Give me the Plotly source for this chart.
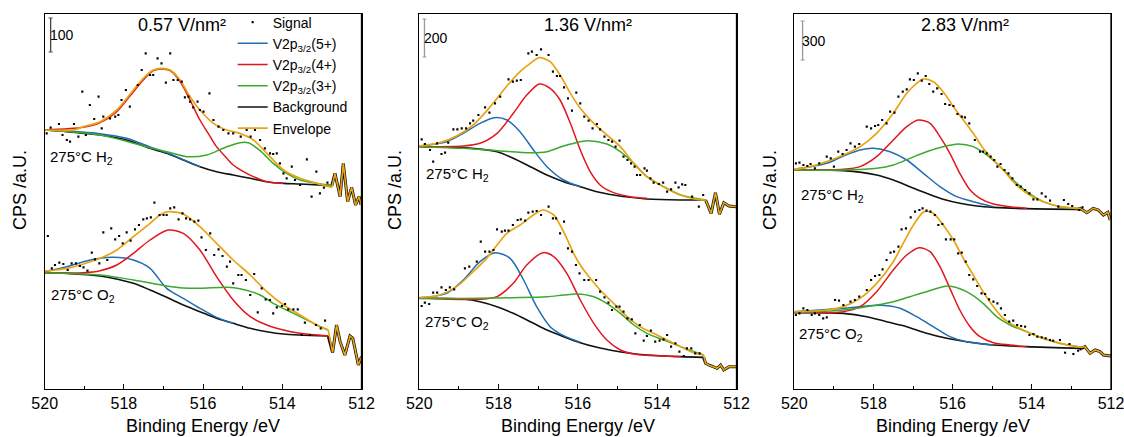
import plotly.graph_objects as go

FONT = "Liberation Sans, Arial, sans-serif"
C_SIG = "#000000"
C_V5 = "#1f6fb2"
C_V4 = "#e3161b"
C_V3 = "#3aa92d"
C_BG = "#111111"
C_ENV = "#e8a413"

PANEL_TITLES = ["0.57 V/nm²", "1.36 V/nm²", "2.83 V/nm²"]
SCALE_BAR_LABELS = ["100", "200", "300"]
SCALE_BAR_LEN = [102, 114, 117]
SAMPLE_LABELS = ["275°C H<sub>2</sub>", "275°C O<sub>2</sub>"]
X_TITLE = "Binding Energy /eV"
Y_TITLE = "CPS /a.U."
X_RANGE = [520, 512]
Y_RANGE = [0, 1125]

# ---------------- Panel 1 (0.57 V/nm2) ----------------
P1_H2_SIG_E = [519.95,519.85,519.64,519.55,519.44,519.36,519.26,519.15,519.05,518.96,518.86,518.75,518.64,518.56,518.52,518.35,518.22,518.14,518.06,517.95,517.85,517.65,517.55,517.45,517.34,517.26,517.15,517.05,516.94,516.83,516.75,516.64,516.54,516.46,516.37,516.33,516.25,516.14,516.08,515.99,515.84,515.74,515.61,515.49,515.36,515.24,515.05,514.90,514.80,514.69,514.56,514.44,514.31,514.23,514.14,514.06,513.97,513.89,513.76,513.68,513.55,513.38,513.26,513.14,513.05,512.95,512.86]
P1_H2_SIG_V = [767,784,795,762,747,742,795,757,892,762,852,810,877,782,817,812,817,822,867,897,847,912,957,1007,942,942,992,977,919,1007,927,927,922,875,877,862,845,862,837,832,887,807,787,777,767,767,757,777,757,777,747,722,707,705,707,677,647,632,667,627,612,689,577,652,587,604,619]
P1_H2_ENV_E = [520.00,519.28,519.02,518.60,518.18,517.76,517.51,517.26,517.05,516.83,516.58,516.33,516.08,515.74,515.40,515.07,514.73,514.39,513.97,513.55,513.13,512.75]
P1_H2_ENV_V = [777,777,787,802,837,897,932,957,962,957,927,877,837,797,777,767,747,707,657,632,617,605]
P1_H2_TAIL_E = [512.67,512.54,512.46,512.35,512.25,512.15,512.06,512.01]
P1_H2_TAIL_V = [647,577,677,562,605,552,577,552]
P1_H2_V4_E = [520.00,519.02,518.60,518.18,517.76,517.51,517.26,517.05,516.83,516.58,516.33,516.08,515.82,515.66,515.40,515.24,514.98,514.73,514.39,513.97]
P1_H2_V4_V = [777,785,799,832,892,927,955,960,955,922,867,807,757,727,692,672,652,637,622,617]
P1_H2_V5_E = [520.00,519.44,518.60,517.93,517.34,516.92,516.50,516.08]
P1_H2_V5_V = [777,774,766,752,726,709,688,667]
P1_H2_V3_E = [520.00,518.60,517.34,516.92,516.41,515.91,515.40,515.07,514.86,514.56,514.23,513.89,513.55,513.13,512.75]
P1_H2_V3_V = [777,762,724,712,697,702,727,739,739,715,677,647,627,617,610]
P1_H2_BG_E = [520.00,519.44,518.60,517.93,517.34,516.92,516.50,516.08,515.66,515.24,514.81,514.39,513.97,513.55,512.75]
P1_H2_BG_V = [777,772,762,747,722,707,687,667,652,642,632,622,617,615,610]

P1_O2_SIG_E = [519.92,519.82,519.74,519.63,519.53,519.42,519.32,519.21,519.11,519.02,518.92,518.81,518.73,518.62,518.52,518.42,518.32,518.22,518.12,518.03,517.93,517.83,517.72,517.62,517.51,517.42,517.32,517.23,517.10,517.00,516.92,516.83,516.73,516.62,516.52,516.43,516.33,516.22,516.12,516.04,515.93,515.82,515.72,515.61,515.51,515.40,515.32,515.24,515.11,515.03,514.92,514.81,514.71,514.62,514.52,514.42,514.31,514.23,514.14,514.01,513.93,513.85,513.72,513.61,513.51,513.43,513.30,513.15,513.03,512.92]
P1_O2_SIG_V = [459,362,372,379,375,357,377,377,369,365,355,409,389,377,470,387,482,449,459,437,470,445,479,492,509,512,515,559,522,522,522,542,545,509,527,512,509,502,505,455,417,467,402,419,399,367,382,317,342,342,327,282,345,230,302,269,267,227,245,249,255,239,239,239,162,199,162,192,182,205]
P1_O2_ENV_E = [520.00,519.44,519.02,518.60,518.18,517.76,517.34,517.09,516.88,516.50,516.08,515.66,515.24,514.81,514.39,513.97,513.55,513.13,512.84]
P1_O2_ENV_V = [354,362,375,392,417,457,497,522,532,525,487,437,387,342,292,252,222,192,177]
P1_O2_TAIL_E = [512.73,512.63,512.54,512.42,512.29,512.22,512.08,512.00]
P1_O2_TAIL_V = [109,192,142,102,159,152,72,97]
P1_O2_V4_E = [520.00,519.02,518.60,518.18,517.76,517.34,516.88,516.50,516.08,515.66,515.24,514.81,514.39,513.97,513.55,512.84]
P1_O2_V4_V = [349,349,355,372,407,447,477,467,417,337,267,217,192,177,167,159]
P1_O2_V5_E = [520.00,519.44,519.02,518.60,518.27,517.76,517.34,516.92,516.50,516.08,515.66,515.24]
P1_O2_V5_V = [352,367,382,392,395,387,362,302,272,242,215,197]
P1_O2_V3_E = [520.00,518.60,517.76,516.92,516.50,516.08,515.40,515.07,514.56,514.23,513.89,513.55,513.13,512.84]
P1_O2_V3_V = [349,342,327,309,303,302,305,301,282,257,237,217,192,177]
P1_O2_BG_E = [520.00,519.44,518.60,517.76,517.34,516.92,516.50,516.08,515.66,515.24,514.81,514.39,513.97,513.55,512.84]
P1_O2_BG_V = [349,347,339,317,297,275,252,232,212,197,182,172,165,162,159]

# ---------------- Panel 2 (1.36 V/nm2) ----------------
P2_H2_SIG_E = [519.94,519.86,519.73,519.65,519.55,519.44,519.35,519.27,519.14,519.04,518.93,518.82,518.72,518.64,518.51,518.34,518.23,518.09,517.96,517.75,517.64,517.54,517.44,517.25,517.16,517.04,516.93,516.74,516.63,516.53,516.45,516.35,516.25,516.15,516.04,515.94,515.84,515.73,515.63,515.52,515.44,515.33,515.23,515.14,515.05,514.95,514.85,514.75,514.66,514.57,514.51,514.43,514.32,514.26,514.17,514.09,513.96,513.85,513.75,513.65,513.54,513.46,513.37,513.29,513.12,512.95,512.84]
P2_H2_SIG_V = [749,735,717,682,737,705,709,739,779,779,782,782,797,805,822,845,829,857,877,929,922,925,927,1007,1012,1002,1019,1002,952,939,939,905,872,835,889,857,817,805,782,795,779,757,747,742,727,745,697,687,677,667,642,642,662,655,632,619,615,619,592,599,619,605,614,612,577,547,582]
P2_H2_ENV_E = [520.00,519.48,519.06,518.64,518.21,517.79,517.46,517.20,516.97,516.70,516.45,516.19,515.94,515.60,515.27,514.93,514.59,514.26,513.84,513.41,512.99,512.78]
P2_H2_ENV_V = [729,739,759,792,847,909,952,977,994,982,942,887,842,797,762,727,677,637,607,582,569,567]
P2_H2_TAIL_E = [512.64,512.53,512.43,512.32,512.19,512.00]
P2_H2_TAIL_V = [527,589,524,559,549,547]
P2_H2_V4_E = [520.00,518.89,518.47,518.04,517.63,517.29,516.97,516.70,516.45,516.19,515.94,515.69,515.44,515.10,514.68,514.26]
P2_H2_V4_V = [727,729,737,767,827,882,915,902,867,797,717,652,612,589,577,572]
P2_H2_V5_E = [520.00,519.31,518.89,518.47,518.11,517.79,517.46,517.12,516.78,516.36,515.94]
P2_H2_V5_V = [729,742,767,797,814,807,772,717,667,627,607]
P2_H2_V3_E = [520.00,518.89,518.04,517.20,516.78,516.36,515.94,515.73,515.27,514.93,514.59,514.26,513.84,513.41,512.78]
P2_H2_V3_V = [727,722,715,709,712,729,742,745,735,712,677,637,607,582,567]
P2_H2_BG_E = [520.00,518.89,518.04,517.63,517.20,516.78,516.36,515.94,515.52,515.10,514.68,514.26,513.41,512.78]
P2_H2_BG_V = [727,724,712,692,667,642,622,607,592,582,575,570,567,567]

P2_O2_SIG_E = [519.94,519.86,519.75,519.65,519.55,519.44,519.33,519.23,519.12,518.85,518.74,518.55,518.45,518.34,518.23,518.13,518.04,517.92,517.84,517.75,517.64,517.52,517.44,517.33,517.25,517.14,517.04,516.93,516.74,516.63,516.55,516.45,516.35,516.25,516.15,516.05,515.96,515.84,515.73,515.54,515.44,515.33,515.23,515.14,515.03,514.95,514.85,514.75,514.64,514.55,514.44,514.34,514.26,514.16,514.05,513.94,513.84,513.75,513.65,513.54,513.44,513.33,513.25,513.14,513.04,512.93]
P2_O2_SIG_V = [249,259,255,289,289,305,297,305,299,362,367,382,442,412,412,417,479,472,475,475,492,507,509,505,529,532,534,522,547,512,512,467,502,422,412,372,347,327,327,327,292,275,259,237,247,247,232,212,209,167,192,145,159,175,142,145,149,162,127,137,112,99,122,122,107,107]
P2_O2_ENV_E = [520.00,519.48,519.06,518.64,518.30,518.04,517.79,517.46,517.12,516.88,516.61,516.45,516.28,516.11,515.94,515.69,515.44,515.10,514.76,514.43,514.09,513.75,513.41,513.08,512.83]
P2_O2_ENV_V = [274,282,307,352,392,432,467,492,522,537,522,492,452,407,372,332,297,257,217,187,167,147,127,109,102]
P2_O2_TAIL_E = [512.78,512.70,512.57,512.49,512.40,512.32,512.19,512.00]
P2_O2_TAIL_V = [77,72,67,62,72,57,67,67]
P2_O2_V4_E = [520.00,518.47,518.04,517.63,517.29,516.88,516.61,516.28,515.94,515.60,515.27,514.93,514.59,514.26,513.41]
P2_O2_V4_V = [272,269,277,317,372,409,397,347,267,197,147,117,105,101,97]
P2_O2_V5_E = [520.00,519.31,518.89,518.47,518.09,517.71,517.37,517.04,516.70,516.36,515.94]
P2_O2_V5_V = [274,287,327,382,409,392,327,247,187,160,140]
P2_O2_V3_E = [520.00,518.47,517.63,516.78,516.36,516.03,515.60,515.27,514.93,514.59,514.26,513.84,513.41,512.83]
P2_O2_V3_V = [272,272,274,277,282,285,277,257,227,192,167,147,127,102]
P2_O2_BG_E = [520.00,518.89,518.47,518.04,517.63,517.20,516.78,516.36,515.94,515.52,515.10,514.68,514.26,513.41,512.83]
P2_O2_BG_V = [272,270,262,247,227,202,177,157,139,125,115,107,102,97,95]

# ---------------- Panel 3 (2.83 V/nm2) ----------------
P3_H2_SIG_E = [519.96,519.87,519.77,519.67,519.59,519.48,519.37,519.18,519.08,519.00,518.89,518.78,518.68,518.58,518.47,518.36,518.17,518.06,517.96,517.88,517.78,517.67,517.58,517.47,517.37,517.26,517.16,517.08,516.98,516.88,516.78,516.68,516.59,516.49,516.39,516.28,516.19,516.08,515.98,515.88,515.77,515.69,515.58,515.44,515.31,515.23,515.14,515.04,514.95,514.87,514.79,514.69,514.59,514.49,514.38,514.28,514.17,514.06,513.96,513.86,513.75,513.65,513.54,513.33,513.19,513.08,512.98,512.80,512.72]
P3_H2_SIG_V = [677,679,672,669,675,662,677,697,692,667,712,705,717,737,727,735,787,782,789,792,807,797,832,829,877,892,899,929,927,947,925,939,915,892,902,885,855,852,849,825,817,815,797,747,712,712,707,697,687,667,675,657,647,632,612,607,597,587,569,569,587,577,565,547,567,555,549,537,545]
P3_H2_ENV_E = [520.00,519.60,519.18,518.76,518.34,517.92,517.50,517.16,516.91,516.74,516.49,516.24,515.98,515.73,515.48,515.23,514.97,514.72,514.47,514.13,513.71,513.29,512.87]
P3_H2_ENV_V = [659,667,682,702,727,767,827,887,917,930,922,892,847,807,767,722,687,657,622,587,562,547,542]
P3_H2_TAIL_E = [512.78,512.61,512.45,512.32,512.19,512.08,512.02]
P3_H2_TAIL_V = [542,529,542,537,522,530,507]
P3_H2_V4_E = [520.00,518.76,518.34,517.92,517.50,517.16,516.87,516.57,516.32,516.07,515.82,515.56,515.31,514.97,514.55,514.13]
P3_H2_V4_V = [657,659,667,697,747,787,807,797,757,707,647,597,572,555,547,542]
P3_H2_V5_E = [520.00,519.18,518.76,518.34,518.00,517.58,517.16,516.74,516.32,515.90,515.48,514.97]
P3_H2_V5_V = [659,677,699,717,722,712,687,647,607,577,562,547]
P3_H2_V3_E = [520.00,518.76,517.92,517.50,517.08,516.66,516.24,515.86,515.48,515.14,514.80,514.47,514.13,513.71,513.29,512.87]
P3_H2_V3_V = [657,657,662,672,692,712,727,735,727,702,667,627,592,562,547,542]
P3_H2_BG_E = [520.00,518.76,517.92,517.50,517.08,516.66,516.24,515.82,515.39,514.97,514.13,512.87]
P3_H2_BG_V = [657,655,642,627,607,587,569,557,549,545,541,539]

P3_O2_SIG_E = [519.96,519.87,519.77,519.67,519.56,519.48,519.37,519.27,519.18,518.97,518.87,518.76,518.58,518.47,518.36,518.17,518.06,517.96,517.85,517.77,517.67,517.57,517.48,517.37,517.29,517.18,517.06,516.95,516.84,516.76,516.66,516.56,516.45,516.36,516.26,516.17,516.05,515.96,515.86,515.77,515.67,515.58,515.48,515.38,515.27,515.18,515.08,514.97,514.87,514.78,514.68,514.57,514.47,514.37,514.27,514.17,514.06,513.96,513.86,513.75,513.65,513.54,513.46,513.29,513.16,513.05,512.95,512.83,512.77]
P3_O2_SIG_V = [222,227,242,237,222,227,222,212,215,267,265,252,262,267,277,297,327,339,342,359,387,409,412,427,479,482,515,532,537,542,535,532,522,492,495,449,449,449,407,409,382,342,329,309,287,285,269,262,257,242,222,202,205,192,189,187,162,165,157,155,152,147,145,147,109,135,105,115,119]
P3_O2_ENV_E = [520.00,519.18,518.76,518.34,517.92,517.50,517.25,516.99,516.72,516.49,516.24,515.98,515.73,515.48,515.23,514.97,514.72,514.47,514.13,513.71,513.29,512.87,512.74]
P3_O2_ENV_V = [232,237,247,272,317,382,437,492,532,527,492,447,392,342,292,247,212,192,172,152,137,127,125]
P3_O2_TAIL_E = [512.66,512.53,512.40,512.28,512.19,512.00]
P3_O2_TAIL_V = [127,107,117,112,102,99]
P3_O2_V4_E = [520.00,518.76,518.34,517.92,517.50,517.16,516.84,516.57,516.32,516.07,515.82,515.56,515.31,514.97,514.55,514.13]
P3_O2_V4_V = [229,232,247,292,357,402,424,412,367,302,237,187,157,139,132,127]
P3_O2_V5_E = [520.00,518.76,518.34,517.79,517.33,516.91,516.49,516.07,515.65,514.97]
P3_O2_V5_V = [232,242,247,251,242,217,187,157,142,132]
P3_O2_V3_E = [520.00,518.76,517.92,517.50,517.08,516.66,516.11,515.65,515.23,514.89,514.55,514.13,513.71,513.29,512.74]
P3_O2_V3_V = [229,237,252,262,277,292,309,292,257,217,192,172,152,137,125]
P3_O2_BG_E = [520.00,518.76,518.17,517.67,517.16,516.66,516.15,515.65,514.97,514.13,512.74]
P3_O2_BG_V = [229,227,217,202,187,167,152,142,132,127,122]

SPECTRA = [
    (1, dict(sig=(P1_H2_SIG_E, P1_H2_SIG_V), env=(P1_H2_ENV_E, P1_H2_ENV_V), tail=(P1_H2_TAIL_E, P1_H2_TAIL_V),
             v5=(P1_H2_V5_E, P1_H2_V5_V), v4=(P1_H2_V4_E, P1_H2_V4_V), v3=(P1_H2_V3_E, P1_H2_V3_V), bg=(P1_H2_BG_E, P1_H2_BG_V)), True),
    (1, dict(sig=(P1_O2_SIG_E, P1_O2_SIG_V), env=(P1_O2_ENV_E, P1_O2_ENV_V), tail=(P1_O2_TAIL_E, P1_O2_TAIL_V),
             v5=(P1_O2_V5_E, P1_O2_V5_V), v4=(P1_O2_V4_E, P1_O2_V4_V), v3=(P1_O2_V3_E, P1_O2_V3_V), bg=(P1_O2_BG_E, P1_O2_BG_V)), False),
    (2, dict(sig=(P2_H2_SIG_E, P2_H2_SIG_V), env=(P2_H2_ENV_E, P2_H2_ENV_V), tail=(P2_H2_TAIL_E, P2_H2_TAIL_V),
             v5=(P2_H2_V5_E, P2_H2_V5_V), v4=(P2_H2_V4_E, P2_H2_V4_V), v3=(P2_H2_V3_E, P2_H2_V3_V), bg=(P2_H2_BG_E, P2_H2_BG_V)), False),
    (2, dict(sig=(P2_O2_SIG_E, P2_O2_SIG_V), env=(P2_O2_ENV_E, P2_O2_ENV_V), tail=(P2_O2_TAIL_E, P2_O2_TAIL_V),
             v5=(P2_O2_V5_E, P2_O2_V5_V), v4=(P2_O2_V4_E, P2_O2_V4_V), v3=(P2_O2_V3_E, P2_O2_V3_V), bg=(P2_O2_BG_E, P2_O2_BG_V)), False),
    (3, dict(sig=(P3_H2_SIG_E, P3_H2_SIG_V), env=(P3_H2_ENV_E, P3_H2_ENV_V), tail=(P3_H2_TAIL_E, P3_H2_TAIL_V),
             v5=(P3_H2_V5_E, P3_H2_V5_V), v4=(P3_H2_V4_E, P3_H2_V4_V), v3=(P3_H2_V3_E, P3_H2_V3_V), bg=(P3_H2_BG_E, P3_H2_BG_V)), False),
    (3, dict(sig=(P3_O2_SIG_E, P3_O2_SIG_V), env=(P3_O2_ENV_E, P3_O2_ENV_V), tail=(P3_O2_TAIL_E, P3_O2_TAIL_V),
             v5=(P3_O2_V5_E, P3_O2_V5_V), v4=(P3_O2_V4_E, P3_O2_V4_V), v3=(P3_O2_V3_E, P3_O2_V3_V), bg=(P3_O2_BG_E, P3_O2_BG_V)), False),
]

W, H = 1124, 437
X_DOMAINS = [[44.7 / W, 361.5 / W], [419.3 / W, 736.5 / W], [794.3 / W, 1111.0 / W]]
Y_DOMAIN = [1 - 389 / H, 1 - 14 / H]

fig = go.Figure()
SPL = dict(shape="spline", smoothing=0.8)


def add_spectrum(panel, d, legend):
    xa = "x" if panel == 1 else f"x{panel}"
    ya = "y" if panel == 1 else f"y{panel}"
    com = dict(xaxis=xa, yaxis=ya, hoverinfo="skip", cliponaxis=True)
    bgE, bgV = d["bg"]
    tE, tV = d["tail"]
    eE, eV = d["env"]
    fig.add_trace(go.Scatter(x=bgE, y=bgV, mode="lines", line=dict(color=C_BG, width=1.6, **SPL),
                             name="Background", showlegend=legend, legendrank=5, **com))
    fig.add_trace(go.Scatter(x=[bgE[-1]] + tE, y=[bgV[-1]] + tV, mode="lines",
                             line=dict(color=C_BG, width=3), showlegend=False, **com))
    for key, name, col, rank in [("v5", "V2p<sub>3/2</sub>(5+)", C_V5, 2),
                                 ("v4", "V2p<sub>3/2</sub>(4+)", C_V4, 3),
                                 ("v3", "V2p<sub>3/2</sub>(3+)", C_V3, 4)]:
        xs, ys = d[key]
        fig.add_trace(go.Scatter(x=xs, y=ys, mode="lines", line=dict(color=col, width=1.5, **SPL),
                                 name=name, showlegend=legend, legendrank=rank, **com))
    fig.add_trace(go.Scatter(x=eE, y=eV, mode="lines", line=dict(color=C_ENV, width=1.7, **SPL),
                             name="Envelope", showlegend=legend, legendrank=6, **com))
    fig.add_trace(go.Scatter(x=[eE[-1]] + tE, y=[eV[-1]] + tV, mode="lines",
                             line=dict(color=C_ENV, width=1.6), showlegend=False, **com))
    sE, sV = d["sig"]
    fig.add_trace(go.Scatter(x=sE, y=sV, mode="markers", marker=dict(color=C_SIG, size=2.1, symbol="square"),
                             name="Signal", showlegend=legend, legendrank=1, **com))


for panel, d, legend in SPECTRA:
    add_spectrum(panel, d, legend)

layout = dict(
    width=W, height=H, autosize=False,
    margin=dict(l=0, r=0, t=0, b=0, autoexpand=False),
    paper_bgcolor="white", plot_bgcolor="white",
    font=dict(family=FONT, color="black", size=15),
    legend=dict(x=0.207, y=0.985, xanchor="left", yanchor="top", bgcolor="rgba(0,0,0,0)",
                font=dict(size=14, family=FONT), tracegroupgap=0, itemwidth=30),
)
for i in range(3):
    sx = "" if i == 0 else str(i + 1)
    layout["xaxis" + sx] = dict(
        domain=X_DOMAINS[i], anchor="y" + sx, range=X_RANGE, tickmode="linear", tick0=512, dtick=2,
        ticks="inside", ticklen=5, tickwidth=1, tickcolor="black", automargin=False,
        ticklabeloverflow="allow",
        minor=dict(ticks="inside", dtick=1, tick0=512, ticklen=3, tickwidth=1, tickcolor="black"),
        showline=True, mirror=True, linecolor="black", linewidth=1.3, showgrid=False, zeroline=False,
        tickfont=dict(size=16, family=FONT),
    )
    layout["yaxis" + sx] = dict(
        domain=Y_DOMAIN, anchor="x" + sx, range=Y_RANGE, showticklabels=False, ticks="", automargin=False,
        showline=True, mirror=True, linecolor="black", linewidth=1.3, showgrid=False, zeroline=False,
    )
fig.update_layout(**layout)

# scale bars
BAR_X = [519.85, 519.87, 519.79]
BAR_TOP = [1113, 1110, 1104]
BAR_COL = ["#444444", "#999999", "#999999"]
shapes = []
annotations = []
for i in range(3):
    xr = "x" if i == 0 else f"x{i + 1}"
    yr = "y" if i == 0 else f"y{i + 1}"
    x0 = BAR_X[i]
    top = BAR_TOP[i]
    bot = top - SCALE_BAR_LEN[i]
    shapes.append(dict(type="line", xref=xr, yref=yr, x0=x0, x1=x0, y0=bot, y1=top,
                       line=dict(color=BAR_COL[i], width=1.3)))
    for yy in (bot, top):
        shapes.append(dict(type="line", xref=xr, yref=yr, x0=x0 - 0.05, x1=x0 + 0.05, y0=yy, y1=yy,
                           line=dict(color=BAR_COL[i], width=1.1)))
    annotations.append(dict(xref=xr, yref=yr, x=x0 + 0.07, y=(top + bot) / 2, text=SCALE_BAR_LABELS[i],
                            showarrow=False, xanchor="left", yanchor="middle", font=dict(size=14, family=FONT)))

# right frame edge of each panel (drawn explicitly so the last panel keeps it)
for i in range(3):
    sx = "" if i == 0 else str(i + 1)
    shapes.append(dict(type="line", xref="x" + sx + " domain" if sx else "x domain",
                       yref="y" + sx + " domain" if sx else "y domain",
                       x0=1, x1=1, y0=0, y1=1, line=dict(color="black", width=1.3)))

TITLE_X = [182, 588, 965]
for i in range(3):
    annotations.append(dict(xref="paper", yref="paper", x=TITLE_X[i] / W, y=1 - 25 / H, text=PANEL_TITLES[i],
                            showarrow=False, xanchor="center", yanchor="middle", font=dict(size=18, family=FONT)))

# x-axis titles, centred under each panel
for i in range(3):
    annotations.append(dict(xref="paper", yref="paper", x=(X_DOMAINS[i][0] + X_DOMAINS[i][1]) / 2,
                            y=1 - 425.5 / H, text=X_TITLE, showarrow=False, xanchor="center", yanchor="middle",
                            font=dict(size=18, family=FONT)))

YT_X = [20, 395, 770]
for i in range(3):
    annotations.append(dict(xref="paper", yref="paper", x=YT_X[i] / W, y=1 - 190 / H, text=Y_TITLE,
                            textangle=-90, showarrow=False, xanchor="center", yanchor="middle",
                            font=dict(size=18, family=FONT)))

LABEL_POS = [(48, 158, 0), (49, 295, 1), (424, 175, 0), (423, 322, 1), (799, 195, 0), (797, 334, 1)]
for px, py, k in LABEL_POS:
    annotations.append(dict(xref="paper", yref="paper", x=px / W, y=1 - py / H, text=SAMPLE_LABELS[k],
                            showarrow=False, xanchor="left", yanchor="middle", font=dict(size=15, family=FONT)))

fig.update_layout(shapes=shapes, annotations=annotations)
fig.write_html("out.html")
